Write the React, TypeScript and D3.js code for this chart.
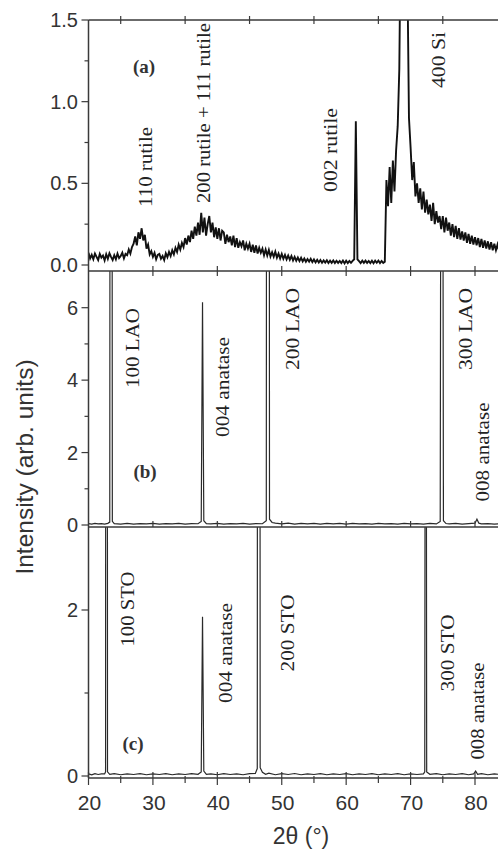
import React from "react";
import * as d3 from "d3";

// ---------- data ----------
// Panel (a): TiO2 film on Si, sampled scan (2θ start / step, intensity values)
const aScanStart = 20;
const aScanStep = 0.25;
const aIntensity: number[] = [
  0.075, 0.04, 0.062, 0.035, 0.07, 0.05, 0.03, 0.068, 0.045, 0.058, 0.028, 0.066,
  0.038, 0.072, 0.05, 0.03, 0.06, 0.035, 0.07, 0.042, 0.055, 0.075, 0.04, 0.068,
  0.06, 0.095, 0.07, 0.11, 0.13, 0.175, 0.12, 0.2, 0.16, 0.225, 0.15, 0.185,
  0.1, 0.125, 0.065, 0.085, 0.05, 0.075, 0.035, 0.062, 0.068, 0.038, 0.055, 0.03,
  0.072, 0.048, 0.08, 0.055, 0.09, 0.065, 0.105, 0.08, 0.125, 0.095, 0.135, 0.11,
  0.165, 0.125, 0.18, 0.14, 0.21, 0.16, 0.235, 0.18, 0.26, 0.185, 0.32, 0.2,
  0.29, 0.18, 0.25, 0.3, 0.2, 0.26, 0.17, 0.23, 0.16, 0.225, 0.15, 0.21,
  0.2, 0.13, 0.185, 0.14, 0.175, 0.12, 0.18, 0.11, 0.165, 0.105, 0.14, 0.115,
  0.15, 0.09, 0.13, 0.1, 0.13, 0.08, 0.125, 0.075, 0.12, 0.07, 0.105, 0.075,
  0.1, 0.06, 0.095, 0.058, 0.092, 0.052, 0.078, 0.05, 0.082, 0.045, 0.07, 0.04,
  0.068, 0.038, 0.062, 0.034, 0.058, 0.032, 0.055, 0.028, 0.05, 0.026, 0.046, 0.024,
  0.044, 0.022, 0.04, 0.02, 0.036, 0.02, 0.038, 0.018, 0.034, 0.016, 0.032, 0.015,
  0.03, 0.014, 0.028, 0.015, 0.029, 0.012, 0.027, 0.013, 0.028, 0.012, 0.026, 0.013,
  0.025, 0.012, 0.027, 0.01, 0.026, 0.012, 0.025, 0.013, 0.025, 0.035, 0.88, 0.035,
  0.024, 0.012, 0.027, 0.013, 0.027, 0.013, 0.025, 0.012, 0.026, 0.011, 0.027, 0.014,
  0.027, 0.012, 0.025, 0.013, 0.02, 0.52, 0.36, 0.6, 0.38, 0.64, 0.45, 0.7,
  0.85, 1.2, 2.2, 4.0, 5.0, 3.5, 1.8, 0.9, 0.72, 0.52, 0.63, 0.42,
  0.5, 0.38, 0.47, 0.34, 0.45, 0.32, 0.4, 0.31, 0.37, 0.27, 0.38, 0.25,
  0.33, 0.26, 0.3, 0.22, 0.3, 0.2, 0.29, 0.21, 0.26, 0.18, 0.25, 0.17,
  0.24, 0.16, 0.225, 0.155, 0.205, 0.15, 0.2, 0.135, 0.19, 0.13, 0.18, 0.125,
  0.17, 0.12, 0.165, 0.11, 0.16, 0.105, 0.15, 0.1, 0.145, 0.095, 0.14, 0.09,
  0.13, 0.09, 0.125, 0.085, 0.125, 0.08, 0.12, 0.078, 0.11, 0.08,
];

// Panel (b): film on LAO  [2θ, intensity]
const bScan: [number, number][] = [
  [20, 0.04], [20.5, 0.025], [21, 0.045], [21.5, 0.03], [22, 0.04], [22.5, 0.025], [23, 0.045],
  [23.3, 0.08], [23.5, 60], [23.7, 0.1], [24, 0.04], [25, 0.025], [26, 0.045], [27, 0.025],
  [28, 0.04], [29, 0.03], [30, 0.045], [31, 0.025], [32, 0.04], [33, 0.03], [34, 0.045],
  [35, 0.025], [36, 0.04], [37, 0.035], [37.5, 0.1], [37.7, 6.15], [37.9, 0.12], [38.3, 0.04],
  [39, 0.03], [40, 0.045], [41, 0.025], [42, 0.04], [43, 0.03], [44, 0.045], [45, 0.025],
  [46, 0.04], [47, 0.035], [47.6, 0.12], [47.85, 80], [48.1, 0.16], [48.5, 0.07], [49, 0.05],
  [50, 0.03], [51, 0.05], [52, 0.025], [53, 0.045], [54, 0.03], [55, 0.045], [56, 0.025],
  [57, 0.045], [58, 0.03], [59, 0.045], [60, 0.025], [61, 0.045], [62, 0.03], [63, 0.04],
  [64, 0.025], [65, 0.045], [66, 0.03], [67, 0.04], [68, 0.025], [69, 0.045], [70, 0.03],
  [71, 0.04], [72, 0.025], [73, 0.045], [74, 0.03], [74.6, 0.1], [74.85, 30], [75.1, 0.12],
  [75.5, 0.04], [76, 0.03], [77, 0.045], [78, 0.025], [79, 0.04], [80, 0.05], [80.3, 0.16],
  [80.6, 0.05], [81, 0.03], [82, 0.04], [83, 0.025], [84, 0.04], [85, 0.03], [86, 0.04],
];

// Panel (c): film on STO  [2θ, intensity]
const cScan: [number, number][] = [
  [20, 0.025], [20.5, 0.015], [21, 0.028], [21.5, 0.018], [22, 0.025], [22.5, 0.025],
  [22.65, 0.05], [22.8, 40], [22.95, 0.05], [23.3, 0.02], [24, 0.028], [25, 0.015],
  [26, 0.025], [27, 0.018], [28, 0.028], [29, 0.015], [30, 0.025], [31, 0.018], [32, 0.028],
  [33, 0.015], [34, 0.025], [35, 0.018], [36, 0.028], [37, 0.02], [37.5, 0.05], [37.7, 1.92],
  [37.9, 0.06], [38.3, 0.02], [39, 0.025], [40, 0.015], [41, 0.028], [42, 0.018], [43, 0.025],
  [44, 0.015], [45, 0.028], [45.9, 0.03], [46.2, 0.09], [46.35, 30], [46.5, 30], [46.65, 0.1],
  [47, 0.045], [47.5, 0.02], [48, 0.035], [49, 0.015], [50, 0.028], [51, 0.018], [52, 0.03],
  [53, 0.015], [54, 0.025], [55, 0.018], [56, 0.028], [57, 0.015], [58, 0.025], [59, 0.018],
  [60, 0.028], [61, 0.015], [62, 0.025], [63, 0.018], [64, 0.028], [65, 0.015], [66, 0.025],
  [67, 0.018], [68, 0.028], [69, 0.015], [70, 0.025], [71, 0.018], [72, 0.025], [72.2, 0.05],
  [72.35, 12], [72.5, 0.05], [73, 0.02], [74, 0.028], [75, 0.015], [76, 0.025], [77, 0.018],
  [78, 0.028], [79, 0.015], [79.8, 0.025], [80.1, 0.06], [80.4, 0.02], [81, 0.028],
  [82, 0.015], [83, 0.025], [84, 0.018], [85, 0.025], [86, 0.02],
];

// tick values
const xMajorTicks = [20, 30, 40, 50, 60, 70, 80];
const xMinorTicks = [25, 35, 45, 55, 65, 75, 85];
const xInnerTicks = [30, 40, 50, 60, 70, 80];
const aYMajor = [0, 0.5, 1.0, 1.5];
const aYMinor = [0.25, 0.75, 1.25];
const bYMajor = [0, 2, 4, 6];
const bYMinor = [1, 3, 5];
const cYMajor = [0, 2];
const cYMinor = [1];

// peak labels
const aLabels = ["110 rutile", "200 rutile + 111 rutile", "002 rutile", "400 Si"];
const bLabels = ["100 LAO", "004 anatase", "200 LAO", "300 LAO", "008 anatase"];
const cLabels = ["100 STO", "004 anatase", "200 STO", "300 STO", "008 anatase"];
const panelTags = ["(a)", "(b)", "(c)"];

// ---------- layout ----------
const W = 498;
const H = 851;
const LEFT = 88.5;
const panels = [
  { top: 20, bottom: 271, y0: 265, yTopVal: 1.5, yTopPx: 20, major: aYMajor, minor: aYMinor, fmt: (v: number) => v.toFixed(1) },
  { top: 271, bottom: 527, y0: 525, yTopVal: 6, yTopPx: 307.7, major: bYMajor, minor: bYMinor, fmt: (v: number) => String(v) },
  { top: 527, bottom: 778, y0: 776, yTopVal: 2, yTopPx: 610, major: cYMajor, minor: cYMinor, fmt: (v: number) => String(v) },
];

// label placement: [baselineX, centerY, length]
const aLabelPos = [[152, 167, 80], [210, 113, 180], [337, 150, 84], [445, 60, 56]];
const bLabelPos = [[139, 348, 80], [229, 387, 100], [299, 329, 82], [472, 329, 82], [489, 452, 99]];
const cLabelPos = [[134, 609, 75], [232, 653, 100], [294, 633, 77], [454, 653, 77], [484, 711, 97]];
const tagPos = [[144, 73], [145, 478], [133, 750]];

const AXIS = "#3a3a3a";
const TXT = "#333";

export default function App() {
  const x = d3.scaleLinear().domain([20, 80]).range([LEFT, 475]);
  const yScales = panels.map((p) =>
    d3.scaleLinear().domain([0, p.yTopVal]).range([p.y0, p.yTopPx])
  );
  const aPoints: [number, number][] = aIntensity.map((v, i) => [aScanStart + i * aScanStep, v]);
  const series = [aPoints, bScan, cScan];
  const labelSets = [aLabels, bLabels, cLabels];
  const labelPos = [aLabelPos, bLabelPos, cLabelPos];

  return (
    <svg
      width={W}
      height={H}
      style={{ position: "absolute", left: 0, top: 0, background: "#fff" }}
      fontFamily="'Liberation Sans', Arial, sans-serif"
    >
      <defs>
        {panels.map((p, i) => (
          <clipPath id={`clip${i}`} key={i}>
            <rect x={LEFT} y={p.top} width={W} height={p.bottom - p.top} />
          </clipPath>
        ))}
      </defs>
      <rect width={W} height={H} fill="#fff" />

      {/* traces */}
      {series.map((s, i) => {
        const y = yScales[i];
        const line = d3
          .line<[number, number]>()
          .x((d) => x(d[0]))
          .y((d) => y(d[1]));
        return (
          <path
            key={i}
            d={line(s) || ""}
            fill="none"
            stroke={i === 0 ? "#111" : "#2a2a2a"}
            strokeWidth={i === 0 ? 1.9 : 1.2}
            strokeLinejoin="miter"
            clipPath={`url(#clip${i})`}
          />
        );
      })}

      {/* frame lines */}
      <line x1={LEFT} x2={W + 10} y1={20} y2={20} stroke={AXIS} strokeWidth={1.5} />
      <line x1={LEFT} x2={W + 10} y1={271} y2={271} stroke={AXIS} strokeWidth={1.5} />
      <line x1={LEFT} x2={W + 10} y1={527} y2={527} stroke={AXIS} strokeWidth={1.5} />
      <line x1={LEFT} x2={W + 10} y1={778} y2={778} stroke={AXIS} strokeWidth={1.5} />
      <line x1={LEFT} x2={LEFT} y1={20} y2={778} stroke={AXIS} strokeWidth={1.5} />

      {/* horizontal-axis ticks */}
      {xMinorTicks.map((t) => (
        <line key={`top${t}`} x1={x(t)} x2={x(t)} y1={16} y2={24} stroke={AXIS} strokeWidth={1.2} />
      ))}
      {xInnerTicks.map((t) => (
        <line key={`ab${t}`} x1={x(t)} x2={x(t)} y1={266} y2={276} stroke={AXIS} strokeWidth={1.2} />
      ))}
      {xInnerTicks.map((t) => (
        <line key={`bc${t}`} x1={x(t)} x2={x(t)} y1={521} y2={527} stroke={AXIS} strokeWidth={1.2} />
      ))}
      {xMajorTicks.map((t) => (
        <line key={`bm${t}`} x1={x(t)} x2={x(t)} y1={772} y2={785} stroke={AXIS} strokeWidth={1.2} />
      ))}
      {xMinorTicks.map((t) => (
        <line key={`bn${t}`} x1={x(t)} x2={x(t)} y1={776} y2={783} stroke={AXIS} strokeWidth={1.2} />
      ))}
      {xMajorTicks.map((t) => (
        <text key={`xl${t}`} x={x(t) + 1} y={810} textAnchor="middle" fontSize={21} fill={TXT}>
          {t}
        </text>
      ))}

      {/* vertical-axis ticks */}
      {panels.map((p, i) => {
        const y = yScales[i];
        return (
          <g key={`ya${i}`}>
            {p.major.map((v) => (
              <g key={`m${v}`}>
                <line x1={LEFT - 7} x2={LEFT} y1={y(v)} y2={y(v)} stroke={AXIS} strokeWidth={1.2} />
                <text x={78} y={y(v) + 7} textAnchor="end" fontSize={20} fill={TXT}>
                  {p.fmt(v)}
                </text>
              </g>
            ))}
            {p.minor.map((v) => (
              <line key={`n${v}`} x1={LEFT - 4} x2={LEFT} y1={y(v)} y2={y(v)} stroke={AXIS} strokeWidth={1.2} />
            ))}
          </g>
        );
      })}

      {/* axis titles */}
      <text x={301} y={844} textAnchor="middle" fontSize={23} fill={TXT}>
        2θ (°)
      </text>
      <text
        transform={`translate(33,467) rotate(-90)`}
        textAnchor="middle"
        fontSize={24.5}
        fill={TXT}
      >
        Intensity (arb. units)
      </text>

      {/* peak labels */}
      {labelSets.map((set, i) =>
        set.map((lab, j) => {
          const [bx, cy, len] = labelPos[i][j];
          return (
            <text
              key={`${i}-${j}`}
              transform={`translate(${bx},${cy}) rotate(-90)`}
              textAnchor="middle"
              fontFamily="'Liberation Serif', 'Times New Roman', serif"
              fontSize={18}
              fill="#222"
              textLength={len}
              lengthAdjust="spacingAndGlyphs"
            >
              {lab}
            </text>
          );
        })
      )}
      {panelTags.map((tag, i) => (
        <text
          key={tag}
          x={tagPos[i][0]}
          y={tagPos[i][1]}
          textAnchor="middle"
          fontFamily="'Liberation Serif', 'Times New Roman', serif"
          fontWeight="bold"
          fontSize={19}
          fill="#333"
        >
          {tag}
        </text>
      ))}
    </svg>
  );
}
